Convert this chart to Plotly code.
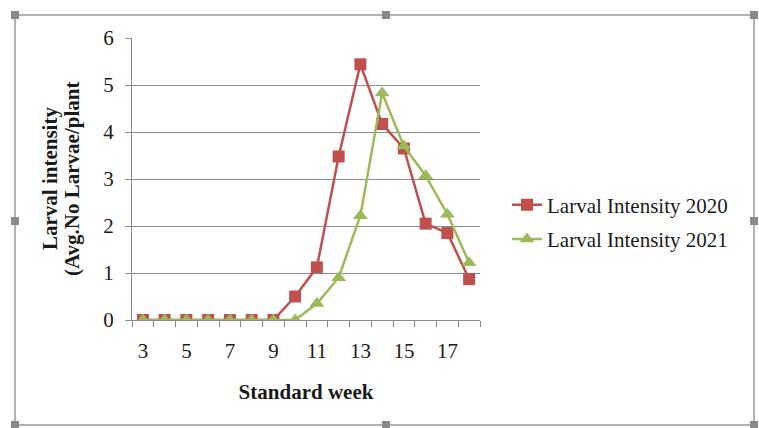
import plotly.graph_objects as go

# Standard weeks and larval intensity (avg. no. larvae / plant)
weeks = list(range(3, 19))
larval_2020 = [0, 0, 0, 0, 0, 0, 0, 0.5, 1.12, 3.48, 5.44, 4.17, 3.65, 2.05, 1.85, 0.87]
larval_2021 = [0, 0, 0, 0, 0, 0, 0, 0, 0.35, 0.9, 2.22, 4.83, 3.7, 3.07, 2.25, 1.22]
week_labels = [3, 5, 7, 9, 11, 13, 15, 17]
y_title_lines = ["Larval intensity", "(Avg.No Larvae/plant"]

RED = "#C0504D"
GREEN = "#9BBB59"
GRID = "#8C8C8C"
INK = "#1A1A1A"
FONT = "Liberation Serif"

W, H = 759, 428
L, R, T, B = 132, 480, 38, 320  # plot area in pixels


def px(x):
    return (x - L) / (R - L)


def py(y):
    return (B - y) / (B - T)


fig = go.Figure()
fig.add_scatter(
    x=weeks, y=larval_2020, mode="lines+markers", name="Larval Intensity 2020",
    legendgroup="a",
    line=dict(color=RED, width=2.5),
    marker=dict(symbol="square", size=12, color=RED),
)
fig.add_scatter(
    x=weeks, y=larval_2021, mode="lines+markers", name="Larval Intensity 2021",
    legendgroup="b",
    line=dict(color=GREEN, width=2.5),
    marker=dict(symbol="triangle-up", size=13, color=GREEN),
)

# picture frame with selection handles
shapes = [dict(type="rect", xref="paper", yref="paper",
               x0=px(15), x1=px(754), y0=py(425), y1=py(15),
               line=dict(color="#9A9A9A", width=1.5), layer="below")]
for hx in (15, 386, 754):
    for hy in (15, 221, 425):
        if hx == 386 and hy == 221:
            continue
        shapes.append(dict(type="rect", xref="paper", yref="paper",
                           x0=px(hx - 4), x1=px(hx + 4), y0=py(hy + 4), y1=py(hy - 4),
                           fillcolor="#8A8A8A", line=dict(width=0)))

# two-line y title, set tighter than plotly's own line spacing
annotations = [
    dict(text=f"<b>{line}</b>", xref="paper", yref="paper", x=px(cx), y=0.5,
         textangle=-90, showarrow=False, xanchor="center", yanchor="middle",
         font=dict(family=FONT, size=21, color=INK))
    for line, cx in zip(y_title_lines, (50, 72))
]

fig.update_layout(
    width=W, height=H,
    margin=dict(l=L, r=W - R, t=T, b=H - B, autoexpand=False),
    paper_bgcolor="white", plot_bgcolor="white",
    font=dict(family=FONT, size=21, color=INK),
    showlegend=True,
    legend=dict(x=px(507), y=py(222), xanchor="left", yanchor="middle",
                font=dict(family=FONT, size=21, color=INK),
                bgcolor="rgba(0,0,0,0)", tracegroupgap=4),
    shapes=shapes,
    annotations=annotations,
    xaxis=dict(
        range=[2.5, 18.5], tickmode="array", tickvals=week_labels,
        ticks="", showgrid=False, zeroline=False,
        showline=True, linecolor=GRID, linewidth=1,
        tickfont=dict(size=21), ticklabelstandoff=12,
        minor=dict(tickmode="linear", tick0=2.5, dtick=1, ticks="outside",
                   ticklen=6, tickcolor=GRID, showgrid=False),
        title=dict(text="<b>Standard week</b>", font=dict(size=21), standoff=22),
    ),
    yaxis=dict(
        range=[0, 6], dtick=1, ticks="outside", ticklen=6, tickcolor=GRID,
        showgrid=True, gridcolor=GRID, gridwidth=1, zeroline=False,
        showline=True, linecolor=GRID, linewidth=1,
        tickfont=dict(size=21), ticklabelstandoff=7,
    ),
)

fig.write_html("out.html", config={"displayModeBar": False},
               post_script="document.body.style.margin='0';")
